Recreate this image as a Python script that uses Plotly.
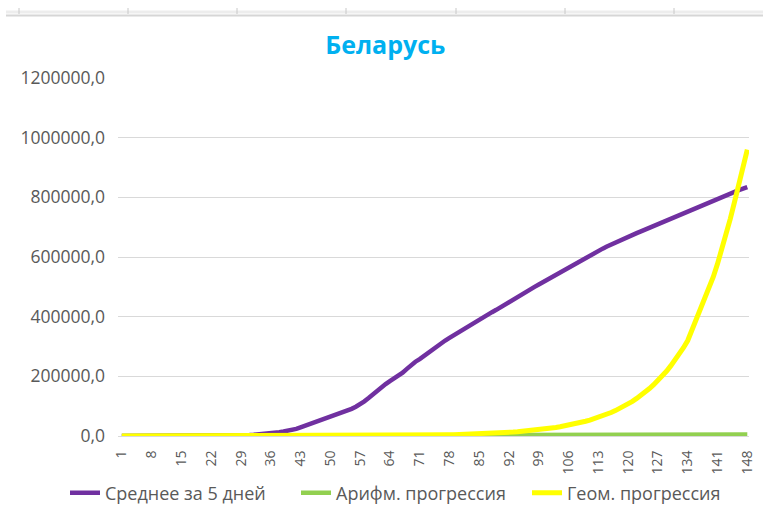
import plotly.graph_objects as go

# --- data (day number -> value) ---
days = list(range(1, 149))
tick_days = [1, 8, 15, 22, 29, 36, 43, 50, 57, 64, 71, 78, 85, 92, 99,
             106, 113, 120, 127, 134, 141, 148]

avg_5d = [
    1, 1, 1, 1, 2, 3, 4, 6, 7, 9,
    12, 15, 20, 27, 36, 48, 60, 75, 90, 110,
    150, 250, 400, 600, 800, 1100, 1400, 1800, 2300, 2900,
    3600, 4400, 5300, 6400, 7800, 9300, 11000, 12800, 15000, 17500,
    20000, 24000, 29000, 34000, 40000, 46000, 52000, 57000, 62000, 67000,
    72000, 77000, 81000, 86000, 91000, 98000, 106000, 116000, 127000, 140000,
    153000, 164000, 174000, 184000, 193000, 202000, 212000, 225000, 239000, 249000,
    258000, 269000, 280000, 291000, 301000, 311000, 320000, 329000, 338000, 346000,
    355000, 363000, 372000, 380000, 389000, 398000, 406000, 415000, 423000, 432000,
    440000, 449000, 458000, 466000, 475000, 483000, 491000, 500000, 508000, 516000,
    525000, 533000, 542000, 551000, 559000, 567000, 575000, 584000, 592000, 600000,
    607000, 614000, 621000, 628000, 635000, 642000, 649000, 655000, 662000, 668000,
    674000, 680000, 686000, 692000, 698000, 704000, 710000, 716000, 723000, 729000,
    736000, 742000, 749000, 755000, 762000, 768000, 774000, 780000, 786000, 792000,
    798000, 804000, 809000, 814000, 819000, 824000, 829000, 834000,
]

arith = [
    35, 70, 105, 140, 175, 210, 245, 280, 315, 350,
    385, 420, 455, 490, 525, 560, 595, 630, 665, 700,
    735, 770, 805, 840, 875, 910, 945, 980, 1015, 1050,
    1085, 1120, 1155, 1190, 1225, 1260, 1295, 1330, 1365, 1400,
    1435, 1470, 1505, 1540, 1575, 1610, 1645, 1680, 1715, 1750,
    1785, 1820, 1855, 1890, 1925, 1960, 1995, 2030, 2065, 2100,
    2135, 2170, 2205, 2240, 2275, 2310, 2345, 2380, 2415, 2450,
    2485, 2520, 2555, 2590, 2625, 2660, 2695, 2730, 2765, 2800,
    2835, 2870, 2905, 2940, 2975, 3010, 3045, 3080, 3115, 3150,
    3185, 3220, 3255, 3290, 3325, 3360, 3395, 3430, 3465, 3500,
    3535, 3570, 3605, 3640, 3675, 3710, 3745, 3780, 3815, 3850,
    3885, 3920, 3955, 3990, 4025, 4060, 4095, 4130, 4165, 4200,
    4235, 4270, 4305, 4340, 4375, 4410, 4445, 4480, 4515, 4550,
    4585, 4620, 4655, 4690, 4725, 4760, 4795, 4830, 4865, 4900,
    4935, 4970, 5005, 5040, 5075, 5110, 5145, 5180,
]

geom = [
    9, 10, 11, 12, 13, 14, 16, 17, 18, 20,
    21, 23, 25, 27, 29, 32, 34, 37, 40, 44,
    47, 51, 55, 60, 65, 70, 75, 82, 88, 95,
    103, 112, 121, 130, 141, 153, 165, 178, 193, 208,
    225, 244, 263, 285, 308, 333, 360, 389, 421, 455,
    492, 532, 575, 622, 672, 727, 786, 849, 918, 993,
    1070, 1160, 1250, 1360, 1470, 1590, 1710, 1850, 2000, 2170,
    2340, 2530, 2740, 2960, 3200, 3460, 3740, 4050, 4380, 4730,
    5120, 5530, 5980, 6470, 6990, 7560, 8180, 8840, 9560, 10300,
    11200, 12100, 13100, 14100, 15300, 16500, 17900, 19300, 20900, 22600,
    24400, 26400, 28600, 30900, 33400, 36100, 39100, 42200, 45700, 49400,
    53400, 57700, 62400, 67400, 72900, 78800, 85200, 92100, 99600, 108000,
    116000, 126000, 136000, 147000, 159000, 172000, 186000, 201000, 217000, 235000,
    254000, 274000, 296000, 320000, 355000, 388000, 420000, 455000, 492000, 533000,
    577000, 624000, 675000, 728000, 785000, 845000, 905000, 960000,
]

assert len(avg_5d) == len(arith) == len(geom) == len(days)

series_names = ["Среднее за 5 дней", "Арифм. прогрессия", "Геом. прогрессия"]

# --- styling ---
PURPLE = "#7030A0"
GREEN = "#92D050"
YELLOW = "#FFFF00"
TEXT = "#595959"
GRID = "#D9D9D9"
TITLE_BLUE = "#00B0F0"
FONT = "Open Sans, sans-serif"

W, H = 763, 511
L, R, T, B = 118, 14, 78, 75


def px_x(px):
    return (px - L) / (W - L - R)


def px_y(py):
    return (H - B - py) / (H - T - B)


fig = go.Figure()
for name, vals, color, width in [
    (series_names[0], avg_5d, PURPLE, 4.5),
    (series_names[1], arith, GREEN, 4.5),
    (series_names[2], geom, YELLOW, 5),
]:
    fig.add_trace(go.Scatter(
        x=days, y=vals, mode="lines", name=name,
        line=dict(color=color, width=width),
        hovertemplate="%{x}: %{y:.1f}<extra>" + name + "</extra>",
    ))

# spreadsheet grid strip visible above the chart in the screenshot
shapes = [
    dict(type="line", xref="paper", yref="paper", x0=px_x(6), x1=px_x(763),
         y0=px_y(12), y1=px_y(12), line=dict(color="#EDEDED", width=3)),
    dict(type="line", xref="paper", yref="paper", x0=px_x(6), x1=px_x(763),
         y0=px_y(15.5), y1=px_y(15.5), line=dict(color="#D6D6D6", width=2)),
]
for vx in [19, 128, 237, 346, 456, 565, 674]:
    shapes.append(dict(type="line", xref="paper", yref="paper", x0=px_x(vx), x1=px_x(vx),
                       y0=px_y(8), y1=px_y(14), line=dict(color="#C8C8C8", width=1)))

fig.update_layout(
    width=W, height=H,
    margin=dict(l=L, r=R, t=T, b=B, autoexpand=False),
    paper_bgcolor="white",
    plot_bgcolor="white",
    separators=",.",
    font=dict(family=FONT, color=TEXT),
    title=dict(
        text="<b>Беларусь</b>",
        font=dict(family=FONT, size=25, color=TITLE_BLUE),
        x=0.505, xref="container", xanchor="center",
        y=1 - 45 / H, yref="container", yanchor="middle",
    ),
    showlegend=True,
    legend=dict(
        orientation="h",
        x=px_x(65), xanchor="left",
        y=px_y(493), yanchor="middle",
        entrywidth=186, entrywidthmode="pixels",
        font=dict(family=FONT, size=18, color=TEXT),
        bgcolor="rgba(0,0,0,0)",
    ),
    shapes=shapes,
)

fig.update_yaxes(
    range=[0, 1200000], dtick=200000, tickformat=".1f",
    showgrid=True, gridcolor=GRID, gridwidth=1,
    zeroline=False, showline=False, ticks="",
    tickfont=dict(family=FONT, size=17.5, color=TEXT),
    ticklabelstandoff=12, automargin=False,
)
fig.update_xaxes(
    range=[0.1, 148.4],
    tickmode="array", tickvals=tick_days, ticktext=[str(d) for d in tick_days],
    tickangle=-90,
    showgrid=False, zeroline=False,
    showline=True, linecolor=GRID, linewidth=1, ticks="",
    tickfont=dict(family=FONT, size=14, color=TEXT),
    ticklabelstandoff=8, automargin=False,
)

fig.write_html("out.html", config={"displayModeBar": False},
               post_script="document.body.style.margin = '0';")
